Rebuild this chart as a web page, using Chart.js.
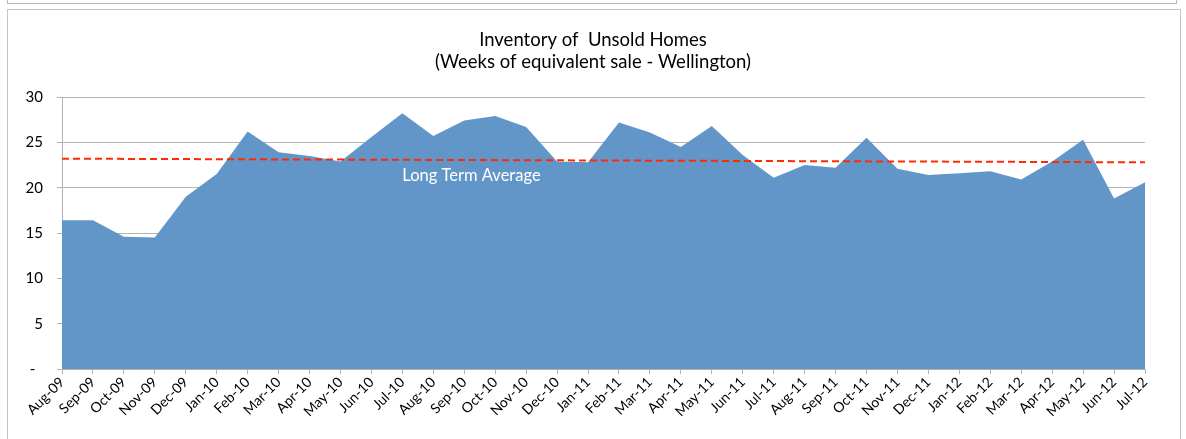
<!DOCTYPE html>
<html>
<head>
<meta charset="utf-8">
<script src="https://cdn.jsdelivr.net/npm/chart.js@4.4.1/dist/chart.umd.min.js"></script>
<style>
  html, body { margin: 0; padding: 0; background: #fff; overflow: hidden; }
  #topbox { position: absolute; left: 7px; top: -20px; width: 1168px; height: 22px; border: 1px solid #b9b9b9; }
  #frame { position: absolute; left: 7px; top: 9px; width: 1172px; height: 460px; border: 1px solid #c4c4c4; }
  #wrap { position: absolute; left: 0; top: 0; width: 1186px; height: 439px; }
</style>
</head>
<body>
<div id="topbox"></div>
<div id="frame"></div>
<div id="wrap"><canvas id="c" width="1186" height="439"></canvas></div>
<script>
const categories = ["Aug-09","Sep-09","Oct-09","Nov-09","Dec-09","Jan-10","Feb-10","Mar-10","Apr-10","May-10","Jun-10","Jul-10",
  "Aug-10","Sep-10","Oct-10","Nov-10","Dec-10","Jan-11","Feb-11","Mar-11","Apr-11","May-11","Jun-11","Jul-11",
  "Aug-11","Sep-11","Oct-11","Nov-11","Dec-11","Jan-12","Feb-12","Mar-12","Apr-12","May-12","Jun-12","Jul-12"];
const inventoryWeeks = [16.4,16.4,14.6,14.5,19.0,21.5,26.2,23.9,23.5,22.9,25.6,28.2,
  25.7,27.4,27.9,26.7,22.9,22.8,27.2,26.1,24.5,26.8,23.6,21.1,
  22.5,22.2,25.5,22.1,21.4,21.6,21.8,20.9,22.9,25.3,18.8,20.6];
const longTermAvgStart = 23.2;
const longTermAvgEnd = 22.8;
const yTicks = [0,5,10,15,20,25,30];
const titleLines = ["Inventory of  Unsold Homes", "(Weeks of equivalent sale - Wellington)"];
const avgLabel = "Long Term Average";

const avgSeries = categories.map((c, i) => i === 0 ? longTermAvgStart : (i === categories.length - 1 ? longTermAvgEnd : null));

const FONT = "Lato, 'Open Sans', sans-serif";
const gridGray = '#b3b3b3';

const labelPlugin = {
  id: 'avgLabel',
  afterDatasetsDraw(chart) {
    const {ctx, scales} = chart;
    ctx.save();
    ctx.font = "16.5px " + FONT;
    ctx.fillStyle = '#ffffff';
    ctx.textAlign = 'left';
    ctx.textBaseline = 'middle';
    ctx.fillText(avgLabel, scales.x.getPixelForValue(11), scales.y.getPixelForValue(21.3));
    ctx.restore();
  }
};

new Chart(document.getElementById('c'), {
  type: 'line',
  data: {
    labels: categories,
    datasets: [
      {
        label: 'Long Term Average',
        data: avgSeries,
        spanGaps: true,
        borderColor: '#ff2a00',
        borderWidth: 2,
        borderDash: [7, 4],
        pointRadius: 0,
        fill: false,
        order: 0
      },
      {
        label: 'Inventory',
        data: inventoryWeeks,
        borderColor: '#6396c8',
        borderWidth: 0,
        backgroundColor: '#6396c8',
        pointRadius: 0,
        fill: 'origin',
        tension: 0,
        order: 1
      }
    ]
  },
  plugins: [labelPlugin],
  options: {
    responsive: false,
    animation: false,
    devicePixelRatio: 1,
    layout: { padding: { left: 0, right: 0, top: 0, bottom: 0 } },
    plugins: {
      legend: { display: false },
      tooltip: { enabled: false },
      title: {
        display: true,
        text: titleLines,
        color: '#000',
        font: { family: FONT, size: 18.5, weight: 'normal', lineHeight: 1.19 },
        padding: { top: 29, bottom: 24 }
      }
    },
    scales: {
      x: {
        offset: false,
        afterFit(scale) { scale.height = 70; },
        grid: { drawOnChartArea: false, drawTicks: true, tickLength: 5, color: gridGray },
        border: { display: true, color: gridGray },
        ticks: {
          autoSkip: false, maxRotation: 45, minRotation: 45,
          color: '#000', padding: 0,
          font: { family: FONT, size: 14 }
        }
      },
      y: {
        min: 0, max: 30,
        afterFit(scale) { scale.width = 62; },
        afterBuildTicks(scale) { scale.ticks = yTicks.map(v => ({ value: v })); },
        grid: { color: gridGray, tickLength: 5 },
        border: { display: true, color: gridGray },
        ticks: {
          color: '#000', padding: 14,
          font: { family: FONT, size: 15 },
          callback: v => v === 0 ? '-  ' : String(v)
        }
      },
      yRight: {
        position: 'right',
        min: 0, max: 30,
        afterFit(scale) { scale.width = 41; },
        grid: { display: false, drawOnChartArea: false },
        border: { display: false },
        ticks: { display: false }
      }
    }
  }
});
</script>
</body>
</html>
